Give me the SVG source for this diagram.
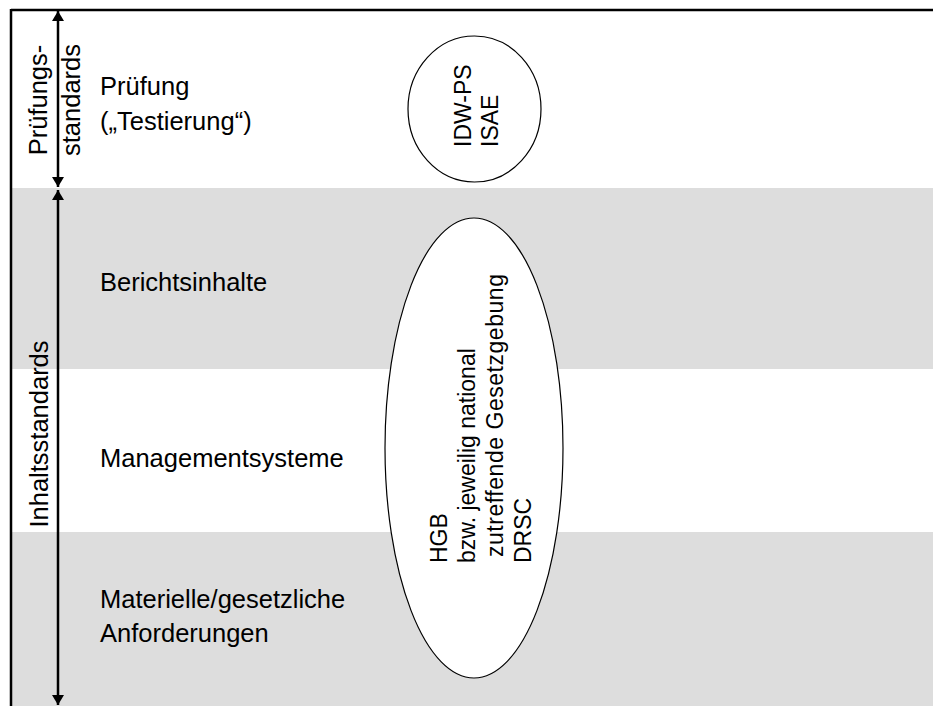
<svg xmlns="http://www.w3.org/2000/svg" width="933" height="706" viewBox="0 0 933 706">
<defs>
<style>
.t{font-family:"Liberation Sans",Arial,sans-serif;font-size:25.5px;fill:#000}
.e{font-family:"Liberation Sans",Arial,sans-serif;font-size:23px;fill:#000}
.band{fill:#dddddd}
.ell{fill:#fff;stroke:#000;stroke-width:1.2}
.ax{stroke:#000;stroke-width:2.5;fill:none}
</style>
<marker id="ah" viewBox="0 0 10 12" refX="10" refY="6" markerWidth="11" markerHeight="12" markerUnits="userSpaceOnUse" orient="auto-start-reverse">
<path d="M0,0 L10,6 L0,12 Z" fill="#000"/>
</marker>
</defs>
<rect x="0" y="0" width="933" height="706" fill="#fff"/>
<g id="bands">
<rect class="band" x="12" y="188" width="921" height="181"/>
<rect class="band" x="12" y="532" width="921" height="174"/>
</g>
<g id="frame">
<line x1="11" y1="10" x2="933" y2="10" stroke="#000" stroke-width="2.5"/>
<line x1="11" y1="9" x2="11" y2="706" stroke="#000" stroke-width="2.5"/>
</g>
<g id="connectors">
<line class="ax" x1="58" y1="11" x2="58" y2="187" marker-start="url(#ah)" marker-end="url(#ah)"/>
<line class="ax" x1="58" y1="190" x2="58" y2="705" marker-start="url(#ah)" marker-end="url(#ah)"/>
</g>
<g id="label-pruefungsstandards">
<text class="t" transform="translate(47,100) rotate(-90)" text-anchor="middle">Prüfungs-</text>
<text class="t" transform="translate(80,100) rotate(-90)" text-anchor="middle">standards</text>
</g>
<g id="label-inhaltsstandards">
<text class="t" transform="translate(48,434) rotate(-90)" text-anchor="middle">Inhaltsstandards</text>
</g>
<g id="row-pruefung">
<text class="t" x="100" y="95">Prüfung</text>
<text class="t" x="100" y="130">(„Testierung“)</text>
</g>
<g id="row-berichtsinhalte">
<text class="t" x="100" y="291">Berichtsinhalte</text>
</g>
<g id="row-managementsysteme">
<text class="t" x="100" y="467">Managementsysteme</text>
</g>
<g id="row-materielle">
<text class="t" x="100" y="608">Materielle/gesetzliche</text>
<text class="t" x="100" y="642">Anforderungen</text>
</g>
<g id="ellipse-idw">
<ellipse class="ell" cx="474.5" cy="109" rx="66.5" ry="73"/>
<text class="e" transform="translate(471,147) rotate(-90)">IDW-PS</text>
<text class="e" transform="translate(498,147) rotate(-90)">ISAE</text>
</g>
<g id="ellipse-hgb">
<ellipse class="ell" cx="474" cy="448" rx="89" ry="230"/>
<text class="e" transform="translate(447,563) rotate(-90)">HGB</text>
<text class="e" transform="translate(475,563) rotate(-90)">bzw. jeweilig national</text>
<text class="e" transform="translate(503,557) rotate(-90)" textLength="283" lengthAdjust="spacing">zutreffende Gesetzgebung</text>
<text class="e" transform="translate(531,563) rotate(-90)">DRSC</text>
</g>
</svg>
